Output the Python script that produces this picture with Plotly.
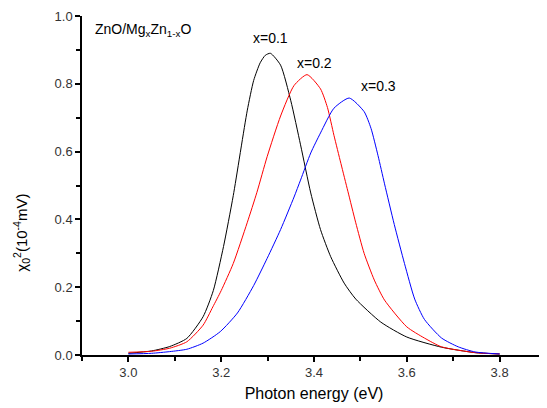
import plotly.graph_objects as go

# x = 0.1 (black)
e1 = [3.00, 3.05, 3.089, 3.126, 3.161, 3.183, 3.205, 3.226, 3.256, 3.27, 3.284, 3.295, 3.306, 3.328,
      3.35, 3.371, 3.393, 3.414, 3.436, 3.465, 3.49, 3.544, 3.60, 3.675, 3.747, 3.80]
v1 = [0.005, 0.012, 0.025, 0.049, 0.113, 0.19, 0.32, 0.47, 0.72, 0.81, 0.862, 0.884, 0.89, 0.855,
      0.75, 0.62, 0.478, 0.37, 0.29, 0.212, 0.165, 0.097, 0.053, 0.023, 0.007, 0.003]
# x = 0.2 (red)
e2 = [3.00, 3.05, 3.089, 3.126, 3.161, 3.182, 3.20, 3.226, 3.256, 3.277, 3.299, 3.328, 3.357, 3.385,
      3.414, 3.429, 3.443, 3.458, 3.473, 3.49, 3.508, 3.53, 3.552, 3.60, 3.638, 3.675, 3.747, 3.80]
v2 = [0.008, 0.011, 0.02, 0.039, 0.088, 0.142, 0.19, 0.27, 0.39, 0.48, 0.585, 0.705, 0.795, 0.827,
      0.785, 0.73, 0.648, 0.565, 0.483, 0.39, 0.30, 0.221, 0.162, 0.083, 0.05, 0.024, 0.007, 0.003]
# x = 0.3 (blue)
e3 = [3.00, 3.05, 3.089, 3.126, 3.161, 3.198, 3.235, 3.27, 3.299, 3.328, 3.357, 3.371, 3.393, 3.414,
      3.443, 3.476, 3.508, 3.523, 3.538, 3.552, 3.573, 3.595, 3.617, 3.638, 3.675, 3.711, 3.747, 3.80]
v3 = [0.003, 0.005, 0.01, 0.017, 0.035, 0.069, 0.124, 0.205, 0.285, 0.37, 0.466, 0.516, 0.596, 0.655,
      0.728, 0.758, 0.718, 0.668, 0.588, 0.505, 0.385, 0.27, 0.165, 0.105, 0.05, 0.024, 0.009, 0.003]

series = [("x=0.1", e1, v1, "#000000"), ("x=0.2", e2, v2, "#ff0000"), ("x=0.3", e3, v3, "#0000ff")]
labels = [("x=0.1", 3.306, 0.905), ("x=0.2", 3.40, 0.832), ("x=0.3", 3.538, 0.764)]

fig = go.Figure()
for name, e, v, c in series:
    fig.add_trace(go.Scatter(x=e, y=v, mode="lines", name=name,
                             line=dict(color=c, width=1, shape="spline", smoothing=0.6)))

for t, lx, ly in labels:
    fig.add_annotation(x=lx, y=ly, text=t, showarrow=False, xanchor="center", yanchor="bottom",
                       font=dict(size=14, color="#000000"))

fig.add_annotation(x=0.024, y=0.99, xref="paper", yref="paper", xanchor="left", yanchor="top",
                   text="ZnO/Mg<sub>x</sub>Zn<sub>1-x</sub>O", showarrow=False,
                   font=dict(size=14, color="#000000"))

# y-axis title (placed like the reference, slightly below the axis middle)
fig.add_annotation(x=-0.13, y=0.36, xref="paper", yref="paper", xanchor="center", yanchor="middle",
                   text="χ<sub>0</sub><sup>2</sup>(10<sup>-4</sup>mV)", textangle=-90, showarrow=False,
                   font=dict(size=15, color="#000000"))

axis_common = dict(showline=True, linecolor="black", linewidth=1.5, ticks="outside",
                   ticklen=5, tickwidth=1.5, tickcolor="black", showgrid=False, zeroline=False,
                   tickfont=dict(family="Liberation Sans, Arial", size=13, color="#333333"),
                   minor=dict(ticks="outside", ticklen=4, tickwidth=1.5, tickcolor="black", showgrid=False))

# the page body adds an 8px margin, so the figure is 8px narrower/shorter
fig.update_layout(
    width=539, height=400,
    margin=dict(l=74, r=1, t=8, b=53),
    paper_bgcolor="white", plot_bgcolor="white",
    showlegend=False,
    font=dict(family="Liberation Sans, Arial", color="#000000"),
    xaxis=dict(range=[2.9, 3.9], tick0=3.0, dtick=0.2, tickformat=".1f",
               title=dict(text="Photon energy (eV)", font=dict(size=16), standoff=8),
               **axis_common),
    yaxis=dict(range=[0, 1.0], tick0=0, dtick=0.2, tickformat=".1f", **axis_common),
)
fig.update_xaxes(minor=dict(tick0=2.9, dtick=0.1))
fig.update_yaxes(minor=dict(tick0=0, dtick=0.1))

fig.write_html("out.html")
